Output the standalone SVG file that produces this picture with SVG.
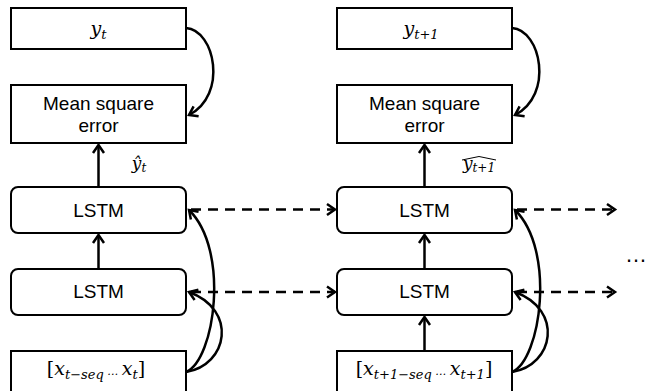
<svg xmlns="http://www.w3.org/2000/svg" width="662" height="391" viewBox="0 0 662 391">
<style>
.box{fill:#fff;stroke:#000;stroke-width:2}
.lbl{font-family:"Liberation Sans",Arial,sans-serif;font-size:19px;text-anchor:middle;fill:#000}
.math{font-family:"DejaVu Serif","Liberation Serif",serif;font-style:italic;fill:#000}
.conn{fill:none;stroke:#000;stroke-width:2.5}
.dash{stroke-dasharray:10,7}
</style>
<defs>
<marker id="ah" markerUnits="userSpaceOnUse" markerWidth="16" markerHeight="16" refX="10" refY="8" orient="auto" viewBox="0 0 16 16">
<path d="M2,2.5 L10,8 L2,13.5" fill="none" stroke="#000" stroke-width="2.5" stroke-linejoin="miter"/>
</marker>
</defs>
<g id="connectors">
<!-- left column -->
<path class="conn" d="M98.5,187 L98.5,145" marker-end="url(#ah)"/>
<path class="conn" d="M98.5,269 L98.5,235" marker-end="url(#ah)"/>
<path class="conn" d="M186,28 C215,30 228,95 189,115" marker-end="url(#ah)"/>
<path class="conn" d="M186,372 C215,360 230,250 189,210" marker-end="url(#ah)"/>
<path class="conn" d="M186,372 C228,365 238,310 189,292" marker-end="url(#ah)"/>
<path class="conn dash" d="M191,209.5 L335,209.5" marker-end="url(#ah)"/>
<path class="conn dash" d="M191,292 L335,292" marker-end="url(#ah)"/>
<!-- right column -->
<path class="conn" d="M424.5,187 L424.5,145" marker-end="url(#ah)"/>
<path class="conn" d="M424.5,269 L424.5,235" marker-end="url(#ah)"/>
<path class="conn" d="M424.5,351 L424.5,317" marker-end="url(#ah)"/>
<path class="conn" d="M512,28 C541,30 554,95 515,115" marker-end="url(#ah)"/>
<path class="conn" d="M512,372 C541,360 556,250 515,210" marker-end="url(#ah)"/>
<path class="conn" d="M512,372 C554,365 564,310 515,292" marker-end="url(#ah)"/>
<path class="conn dash" d="M517,209.5 L615,209.5" marker-end="url(#ah)"/>
<path class="conn dash" d="M517,292 L615,292" marker-end="url(#ah)"/>
</g>
<g id="y_t">
<rect class="box" x="11" y="8" width="175" height="41"/>
<text class="math" x="98.5" y="35" font-size="19" text-anchor="middle">y<tspan font-size="13" dy="4">t</tspan></text>
</g>
<g id="mse_left">
<rect class="box" x="11" y="85" width="175" height="58"/>
<text class="lbl" x="98.5" y="110">Mean square</text>
<text class="lbl" x="98.5" y="132">error</text>
</g>
<g id="yhat_t">
<text class="math" x="139" y="169" font-size="17" text-anchor="middle">ŷ<tspan font-size="12" dy="3">t</tspan></text>
</g>
<g id="lstm_top_left">
<rect class="box" x="11" y="187" width="175" height="46" rx="7"/>
<text class="lbl" x="98.5" y="217">LSTM</text>
</g>
<g id="lstm_bot_left">
<rect class="box" x="11" y="269" width="175" height="46" rx="7"/>
<text class="lbl" x="98.5" y="298">LSTM</text>
</g>
<g id="input_left">
<rect class="box" x="11" y="351" width="175" height="50"/>
<text class="math" x="96" y="375" font-size="19" text-anchor="middle"><tspan font-style="normal">[</tspan>x<tspan font-size="13" dy="4">t−seq</tspan><tspan font-size="11" dy="-4"> … </tspan>x<tspan font-size="13" dy="4">t</tspan><tspan font-style="normal" dy="-4">]</tspan></text>
</g>
<g id="y_t1">
<rect class="box" x="337" y="8" width="175" height="41"/>
<text class="math" x="421" y="35" font-size="19" text-anchor="middle">y<tspan font-size="13" dy="4">t+1</tspan></text>
</g>
<g id="mse_right">
<rect class="box" x="337" y="85" width="175" height="58"/>
<text class="lbl" x="424.5" y="110">Mean square</text>
<text class="lbl" x="424.5" y="132">error</text>
</g>
<g id="yhat_t1">
<text class="math" x="479" y="169" font-size="17" text-anchor="middle">y<tspan font-size="12" dy="3">t+1</tspan></text>
<path d="M462,160 L479,156.5 L496,160" fill="none" stroke="#000" stroke-width="1"/>
</g>
<g id="lstm_top_right">
<rect class="box" x="337" y="187" width="175" height="46" rx="7"/>
<text class="lbl" x="424.5" y="217">LSTM</text>
</g>
<g id="lstm_bot_right">
<rect class="box" x="337" y="269" width="175" height="46" rx="7"/>
<text class="lbl" x="424.5" y="298">LSTM</text>
</g>
<g id="input_right">
<rect class="box" x="337" y="351" width="175" height="50"/>
<text class="math" x="424" y="375" font-size="19" text-anchor="middle"><tspan font-style="normal">[</tspan>x<tspan font-size="13" dy="4">t+1−seq</tspan><tspan font-size="11" dy="-4"> … </tspan>x<tspan font-size="13" dy="4">t+1</tspan><tspan font-style="normal" dy="-4">]</tspan></text>
</g>
<g id="ellipsis">
<text x="636" y="262" font-family="Liberation Sans,Arial,sans-serif" font-size="22" text-anchor="middle">…</text>
</g>
</svg>
